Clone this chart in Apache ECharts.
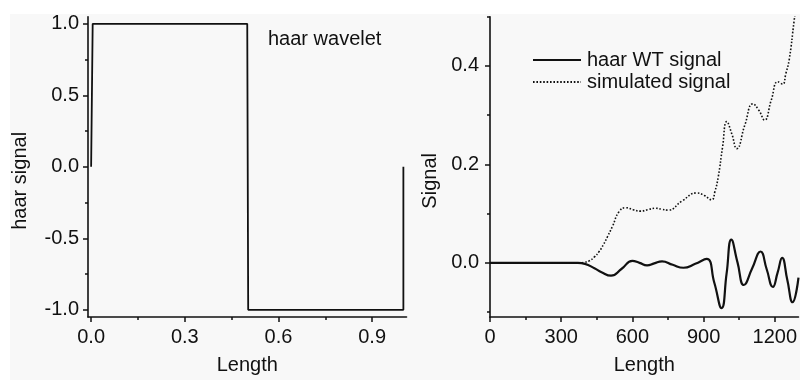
<!DOCTYPE html>
<html>
<head>
<meta charset="utf-8">
<script src="https://cdn.jsdelivr.net/npm/echarts@6/dist/echarts.min.js"></script>
<style>
html,body{margin:0;padding:0;background:#fff;}
#chart{width:800px;height:380px;}
</style>
</head>
<body>
<div id="chart"></div>
<script>
// ---- data ----
var haarX = [0, 0.005, 0.5, 0.503, 1.0, 1.0];
var haarY = [0, 1, 1, -1, -1, 0];

var wtX = [0, 370, 400, 440, 470, 510, 555, 600, 630, 662, 692, 725, 770, 815, 865, 913, 945, 976, 997, 1017, 1043, 1070, 1105, 1140, 1166, 1192, 1212, 1231, 1253, 1275, 1300];
var wtY = [0, 0, -0.002, -0.011, -0.019, -0.026, -0.012, 0.004, 0.0, -0.005, -0.001, 0.003, -0.004, -0.010, -0.002, 0.008, -0.040, -0.092, -0.022, 0.047, 0.001, -0.045, -0.011, 0.023, -0.013, -0.049, -0.020, 0.010, -0.035, -0.080, -0.030];

var simX = [0, 370, 395, 418, 440, 460, 478, 495, 516, 544, 572, 603, 634, 665, 697, 723, 750, 810, 871, 903, 934, 948, 962, 980, 998, 1019, 1040, 1074, 1108, 1133, 1157, 1185, 1213, 1233, 1247, 1261, 1282, 1300];
var simY = [0, 0, 0.001, 0.004, 0.012, 0.023, 0.037, 0.053, 0.074, 0.104, 0.112, 0.108, 0.105, 0.108, 0.111, 0.109, 0.107, 0.126, 0.142, 0.137, 0.128, 0.145, 0.175, 0.235, 0.287, 0.262, 0.232, 0.280, 0.323, 0.310, 0.290, 0.330, 0.368, 0.363, 0.385, 0.413, 0.493, 0.56];

var leftXMajor = [0, 0.3, 0.6, 0.9];
var leftXMinor = [0.15, 0.45, 0.75];
var leftYMajor = [-1, -0.5, 0, 0.5, 1];
var leftYMinor = [-0.75, -0.25, 0.25, 0.75];
var rightXMajor = [0, 300, 600, 900, 1200];
var rightXMinor = [150, 450, 750, 1050];
var rightYMajor = [0, 0.2, 0.4];
var rightYMinor = [-0.1, 0.1, 0.3, 0.5];

var seriesNames = ['haar WT signal', 'simulated signal'];

function zip(a, b) { return a.map(function (v, i) { return [v, b[i]]; }); }

var FONT = "'Liberation Sans', Arial, sans-serif";
var INK = '#111';

function mainAxis(opt) {
  return Object.assign({
    type: 'value',
    axisLine: { show: true, onZero: false, lineStyle: { color: INK, width: 1.6 } },
    axisTick: { show: true, inside: false, length: 5, lineStyle: { color: INK, width: 1.5 } },
    splitLine: { show: false },
    axisLabel: { color: INK, fontSize: 20, fontFamily: FONT },
    nameLocation: 'middle',
    nameTextStyle: { color: INK, fontSize: 20, fontFamily: FONT }
  }, opt);
}
function minorAxis(opt) {
  return Object.assign({
    type: 'value',
    axisLine: { show: false, onZero: false },
    axisLabel: { show: false },
    splitLine: { show: false }
  }, opt);
}

var chart = echarts.init(document.getElementById('chart'), null, { renderer: 'canvas' });
chart.setOption({
  animation: false,
  backgroundColor: '#ffffff',
  graphic: [
    { type: 'rect', z: -10, silent: true, shape: { x: 10, y: 14, width: 790, height: 366 }, style: { fill: '#f8f8f8' } },
    { type: 'text', left: 268, top: 29, style: { text: 'haar wavelet', fill: INK, font: "20px " + FONT } }
  ],
  grid: [
    { left: 88, top: 16.7, width: 318.5, height: 305.6 },
    { left: 490, top: 16.7, width: 311.7, height: 305 }
  ],
  xAxis: [
    mainAxis({ gridIndex: 0, position: 'bottom', min: -0.01, max: 1.01, name: 'Length', nameGap: 38,
      axisTick: { show: true, length: 5, customValues: leftXMajor, lineStyle: { color: INK, width: 1.5 } },
      axisLabel: { color: INK, fontSize: 20, fontFamily: FONT, margin: 10, customValues: leftXMajor, formatter: function (v) { return v.toFixed(1); } } }),
    minorAxis({ gridIndex: 0, position: 'bottom', min: -0.01, max: 1.01,
      axisTick: { show: true, length: 3, customValues: leftXMinor, lineStyle: { color: INK, width: 1.5 } } }),
    mainAxis({ gridIndex: 1, position: 'bottom', min: 0, max: 1300, name: 'Length', nameGap: 38,
      axisTick: { show: true, length: 5, customValues: rightXMajor, lineStyle: { color: INK, width: 1.5 } },
      axisLabel: { color: INK, fontSize: 20, fontFamily: FONT, margin: 10, customValues: rightXMajor, formatter: function (v) { return String(Math.round(v)); } } }),
    minorAxis({ gridIndex: 1, position: 'bottom', min: 0, max: 1300,
      axisTick: { show: true, length: 3, customValues: rightXMinor, lineStyle: { color: INK, width: 1.5 } } })
  ],
  yAxis: [
    mainAxis({ gridIndex: 0, position: 'left', min: -1.05, max: 1.05, name: 'haar signal', nameGap: 58,
      nameTextStyle: { color: INK, fontSize: 20, fontFamily: FONT, padding: [0, 28, 0, 0] },
      axisTick: { show: true, length: 5, customValues: leftYMajor, lineStyle: { color: INK, width: 1.5 } },
      axisLabel: { color: INK, fontSize: 20, fontFamily: FONT, margin: 9, customValues: leftYMajor, formatter: function (v) { return v.toFixed(1); } } }),
    minorAxis({ gridIndex: 0, position: 'left', min: -1.05, max: 1.05,
      axisTick: { show: true, length: 3, customValues: leftYMinor, lineStyle: { color: INK, width: 1.5 } } }),
    mainAxis({ gridIndex: 1, position: 'left', min: -0.11, max: 0.5, name: 'Signal', nameGap: 50,
      nameTextStyle: { color: INK, fontSize: 20, fontFamily: FONT, padding: [0, 28, 0, 0] },
      axisTick: { show: true, length: 5, customValues: rightYMajor, lineStyle: { color: INK, width: 1.5 } },
      axisLabel: { color: INK, fontSize: 20, fontFamily: FONT, margin: 11, customValues: rightYMajor, formatter: function (v) { return v.toFixed(1); } } }),
    minorAxis({ gridIndex: 1, position: 'left', min: -0.11, max: 0.5,
      axisTick: { show: true, length: 3, customValues: rightYMinor, lineStyle: { color: INK, width: 1.5 } } })
  ],
  legend: {
    data: seriesNames,
    orient: 'vertical',
    left: 527, top: 45,
    itemWidth: 48, itemHeight: 14, itemGap: 2,
    itemStyle: { opacity: 0 },
    textStyle: { color: INK, fontSize: 20, fontFamily: FONT, padding: [0, 0, 0, 1] }
  },
  series: [
    { type: 'line', xAxisIndex: 0, yAxisIndex: 0, data: zip(haarX, haarY), showSymbol: false, symbol: 'none',
      lineStyle: { color: INK, width: 1.8 }, clip: true },
    { type: 'line', name: seriesNames[0], xAxisIndex: 2, yAxisIndex: 2, data: zip(wtX, wtY), showSymbol: false, symbol: 'none',
      smooth: 0.5, lineStyle: { color: INK, width: 2.2 }, itemStyle: { color: INK }, clip: true },
    { type: 'line', name: seriesNames[1], xAxisIndex: 2, yAxisIndex: 2, data: zip(simX, simY), showSymbol: false, symbol: 'none',
      smooth: 0.5, lineStyle: { color: INK, width: 1.6, type: [1.6, 1.8] }, itemStyle: { color: INK }, clip: true }
  ]
});
</script>
</body>
</html>
